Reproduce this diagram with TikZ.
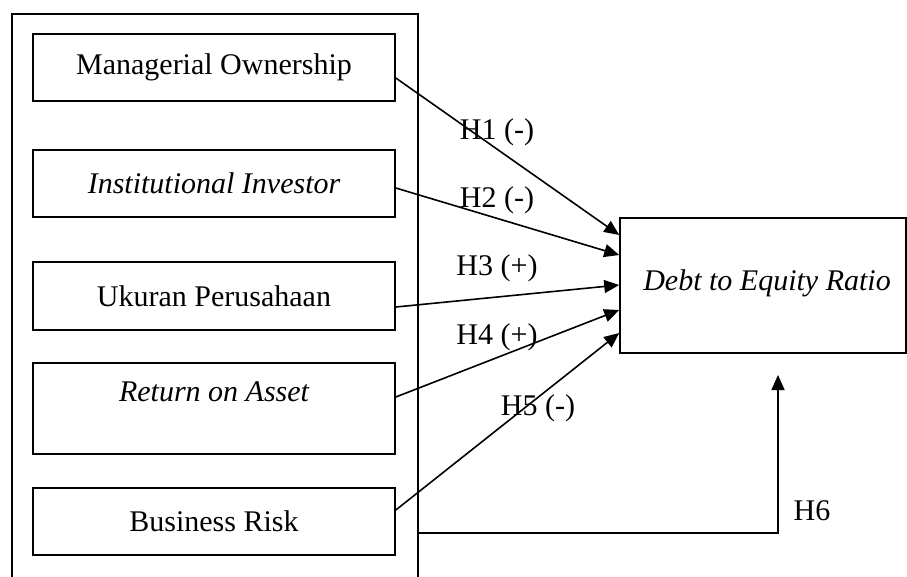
\documentclass[tikz,border=0pt]{standalone}
\usepackage{fontspec}
\setmainfont{Liberation Serif}
\usetikzlibrary{arrows.meta}
\begin{document}
\begin{tikzpicture}[x=1pt,y=-1pt,
  font=\fontsize{30}{36}\selectfont,
  box/.style={draw,line width=1.6pt,minimum width=362pt,inner sep=0pt},
  lbl/.style={inner sep=0pt},
  conn/.style={line width=1.6pt,-{Triangle[length=15pt,width=13pt]}}]
\useasboundingbox (0,0) rectangle (907,576);
\clip (0,0) rectangle (907,576);
\node[draw,line width=1.6pt,minimum width=406pt,minimum height=620pt,inner sep=0pt,anchor=north west] (outer) at (11,13) {};
\node[box,minimum height=67pt] (b1) at (214,67.5) {Managerial Ownership};
\node[box,minimum height=67pt] (b2) at (214,183.5) {\itshape Institutional Investor};
\node[box,minimum height=68pt] (b3) at (214,296) {Ukuran Perusahaan};
\node[box,minimum height=91pt] (b4) at (214,408.5) {};
\node[lbl] (t4) at (214,392) {\itshape Return on Asset};
\node[box,minimum height=67pt] (b5) at (214,521.5) {Business Risk};
\node[draw,line width=1.6pt,minimum width=286pt,minimum height=135pt,inner sep=0pt] (der) at (763,285.5) {};
\node[lbl] (tder) at (767,283) {\itshape Debt to Equity Ratio};
\draw[conn] ([yshift=-10.5pt]b1.east) -- ([yshift=50.5pt]der.west);
\draw[conn] ([yshift=-4.5pt]b2.east) -- ([yshift=30.5pt]der.west);
\draw[conn] ([yshift=-11pt]b3.east) -- ([yshift=0.5pt]der.west);
\draw[conn] ([yshift=11.5pt]b4.east) -- ([yshift=-24.5pt]der.west);
\draw[conn] ([yshift=11.5pt]b5.east) -- ([yshift=-47.5pt]der.west);
\coordinate (h6a) at (778,533);
\coordinate (h6b) at (778,375);
\draw[conn] (outer.east |- h6a) -- (h6a) -- (h6b);
\node[lbl] (l1) at (497,132) {H1 (-)};
\node[lbl] (l2) at (497,200) {H2 (-)};
\node[lbl] (l3) at (497,268) {H3 (+)};
\node[lbl] (l4) at (497,337) {H4 (+)};
\node[lbl] (l5) at (538,408) {H5 (-)};
\node[lbl] (l6) at (812,511) {H6};
\end{tikzpicture}
\end{document}
